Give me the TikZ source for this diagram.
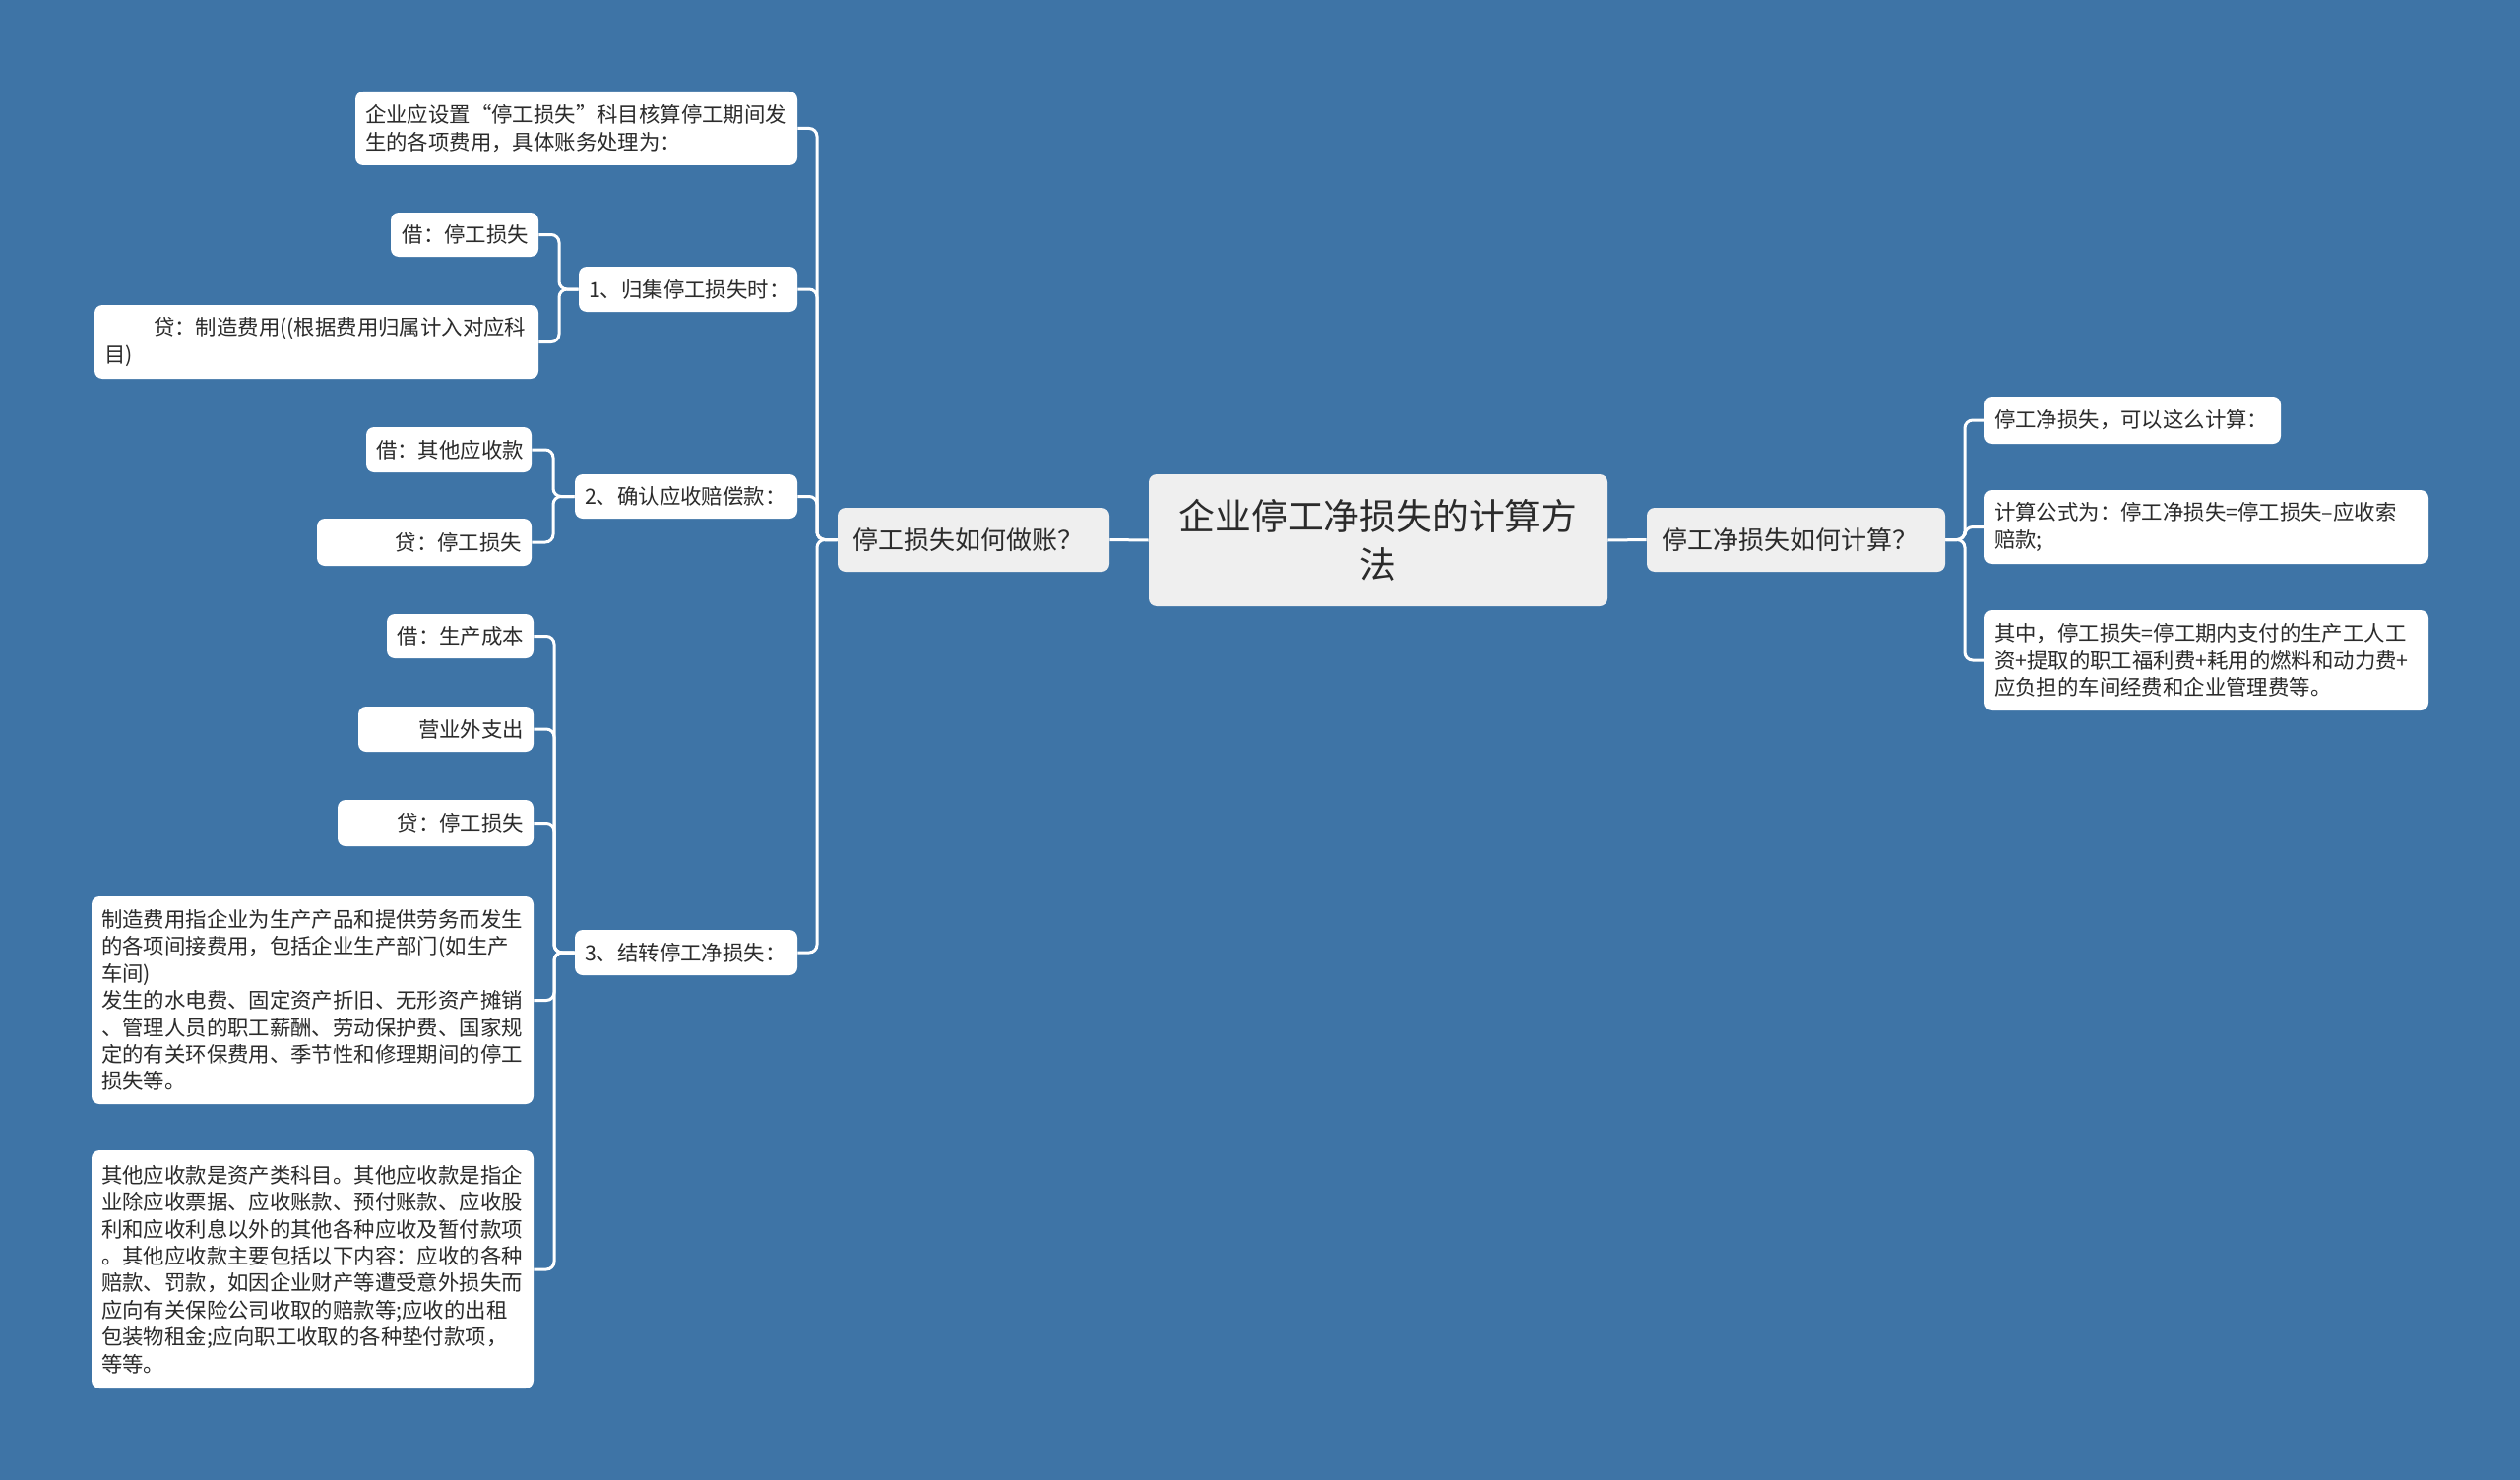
\documentclass[tikz,border=0pt]{standalone}
\usepackage{fontspec}
\setmainfont{Noto Sans CJK SC}
\definecolor{bg}{HTML}{3E74A6}
\definecolor{mid}{HTML}{EFEFEF}
\definecolor{ink}{HTML}{2B2B2B}
\tikzset{
  leaf/.style={fill=white, rounded corners=4pt, inner xsep=5pt, inner ysep=2pt,
    text=ink, font=\fontsize{10.7pt}{13.7pt}\selectfont},
  lvl/.style={fill=mid, rounded corners=4pt, inner xsep=7.5pt, inner ysep=2pt, align=left,
    text=ink, font=\fontsize{13pt}{16pt}\selectfont},
  rootbox/.style={fill=mid, rounded corners=4pt, inner sep=2pt, align=center,
    text=ink, font=\fontsize{18.4pt}{24.5pt}\selectfont},
  conn/.style={draw=white, line width=1.5pt, rounded corners=4pt},
}
\begin{document}
\begin{tikzpicture}[x=0.5pt,y=-0.5pt]
\fill[bg] (0,0) rectangle (2560,1504);
\useasboundingbox (0,0) rectangle (2560,1504);

% root and level 1
\node[rootbox, minimum width=233pt, minimum height=67pt] (root) at (1400,549) {企业停工净损失的计算方\\法};
\node[lvl, minimum width=138pt, text width=123pt, minimum height=32.5pt] (L) at (989,548.5) {停工损失如何做账？};
\node[lvl, minimum width=151.5pt, text width=136.5pt, minimum height=32.5pt] (R) at (1824.5,548.5) {停工净损失如何计算？};

% left level 2
\node[leaf, minimum width=224.5pt, text width=214.5pt, minimum height=37.5pt, align=left] (t0) at (585.5,130.5)
  {企业应设置“停工损失”科目核算停工期间发\\生的各项费用，具体账务处理为：};
\node[leaf, minimum width=111pt, text width=101pt, minimum height=23pt, align=left] (n1) at (699,294) {1、归集停工损失时：};
\node[leaf, minimum width=113pt, text width=103pt, minimum height=22.5pt, align=left] (n2) at (697,504.5) {2、确认应收赔偿款：};
\node[leaf, minimum width=113pt, text width=103pt, minimum height=23pt, align=left] (n3) at (697,968) {3、结转停工净损失：};

% leaves of n1
\node[leaf, minimum width=75pt, text width=65pt, minimum height=22.5pt, align=right] (a1) at (472,238.5) {借：停工损失};
\node[leaf, minimum width=225.5pt, text width=215.5pt, minimum height=37.5pt, align=left] (a2) at (321.5,347.5)
  {\hspace*{25pt}贷：制造费用((根据费用归属计入对应科\\目)};

% leaves of n2
\node[leaf, minimum width=84pt, text width=74pt, minimum height=23pt, align=right] (b1) at (456,457) {借：其他应收款};
\node[leaf, minimum width=109pt, text width=99pt, minimum height=24pt, align=right] (b2) at (431,551) {贷：停工损失};

% leaves of n3
\node[leaf, minimum width=74.5pt, text width=64.5pt, minimum height=22.5pt, align=right] (c1) at (467.5,646.5) {借：生产成本};
\node[leaf, minimum width=89pt, text width=79pt, minimum height=23pt, align=right] (c2) at (453,741) {营业外支出};
\node[leaf, minimum width=99.5pt, text width=89.5pt, minimum height=23.5pt, align=right] (c3) at (442.5,836.5) {贷：停工损失};
\node[leaf, minimum width=224.5pt, text width=214.5pt, minimum height=105.5pt, align=left] (c4) at (317.5,1016.5)
  {制造费用指企业为生产产品和提供劳务而发生\\的各项间接费用，包括企业生产部门(如生产\\车间)\\发生的水电费、固定资产折旧、无形资产摊销\\、管理人员的职工薪酬、劳动保护费、国家规\\定的有关环保费用、季节性和修理期间的停工\\损失等。};
\node[leaf, minimum width=224.5pt, text width=214.5pt, minimum height=121pt, align=left] (c5) at (317.5,1290)
  {其他应收款是资产类科目。其他应收款是指企\\业除应收票据、应收账款、预付账款、应收股\\利和应收利息以外的其他各种应收及暂付款项\\。其他应收款主要包括以下内容：应收的各种\\赔款、罚款，如因企业财产等遭受意外损失而\\应向有关保险公司收取的赔款等;应收的出租\\包装物租金;应向职工收取的各种垫付款项，\\等等。};

% right leaves
\node[leaf, minimum width=150.5pt, text width=140.5pt, minimum height=24pt, align=left] (r1) at (2166.5,427) {停工净损失，可以这么计算：};
\node[leaf, minimum width=225.5pt, text width=215.5pt, minimum height=37.5pt, align=left] (r2) at (2241.5,535.5)
  {计算公式为：停工净损失=停工损失–应收索\\赔款;};
\node[leaf, minimum width=225.5pt, text width=215.5pt, minimum height=51pt, align=left] (r3) at (2241.5,671)
  {其中，停工损失=停工期内支付的生产工人工\\资+提取的职工福利费+耗用的燃料和动力费+\\应负担的车间经费和企业管理费等。};

% trunk coordinates
\coordinate (Lt) at (830,548.5);
\coordinate (n1t) at (568,294);
\coordinate (n2t) at (562,504.5);
\coordinate (n3t) at (563,968);
\coordinate (Rt) at (1996,548.5);

% connectors
\draw[conn] (root.west) -- (L.east);
\draw[conn] (root.east) -- (R.west);
\foreach \c in {t0,n1,n2,n3} \draw[conn] (L.west) -- (Lt) |- (\c.east);
\foreach \c in {a1,a2} \draw[conn] (n1.west) -- (n1t) |- (\c.east);
\foreach \c in {b1,b2} \draw[conn] (n2.west) -- (n2t) |- (\c.east);
\foreach \c in {c1,c2,c3,c4,c5} \draw[conn] (n3.west) -- (n3t) |- (\c.east);
\foreach \c in {r1,r2,r3} \draw[conn] (R.east) -- (Rt) |- (\c.west);
\end{tikzpicture}
\end{document}
